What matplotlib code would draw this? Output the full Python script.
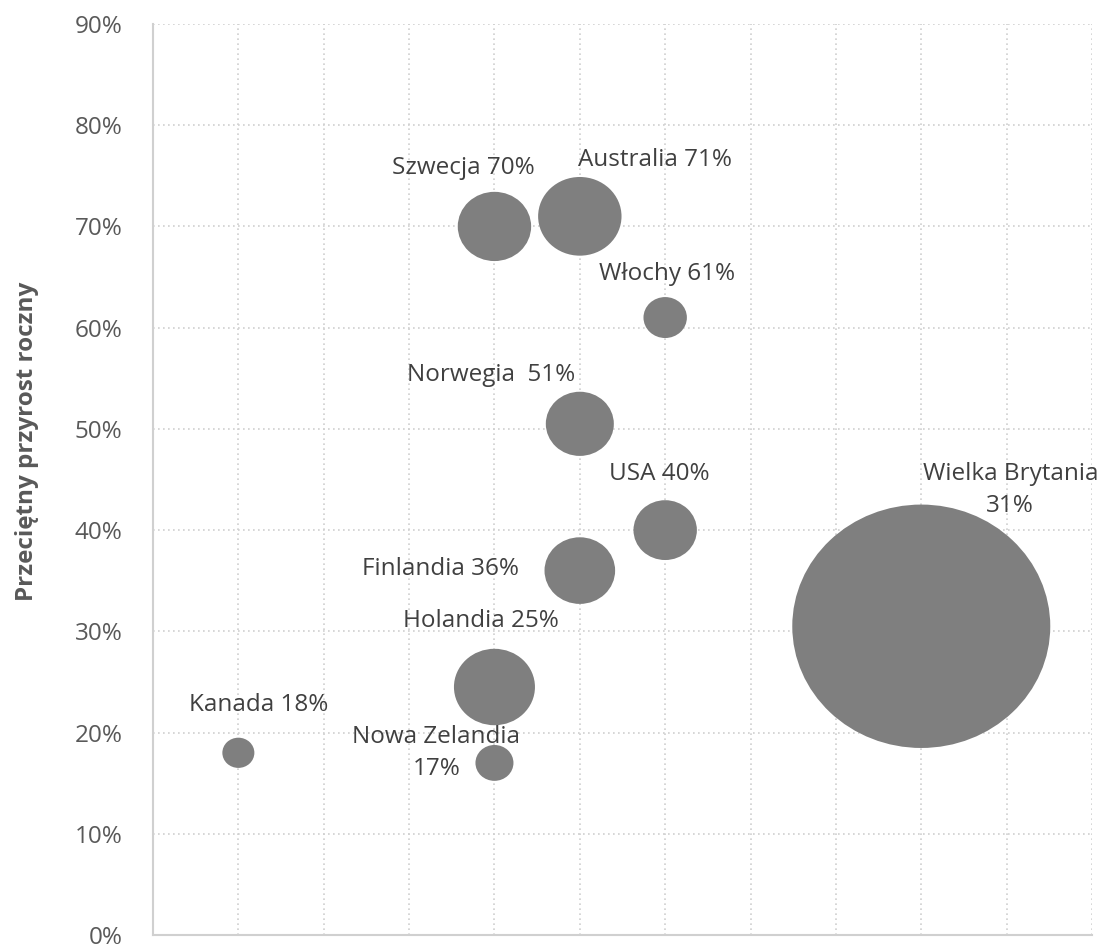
import matplotlib
matplotlib.use("Agg")
import matplotlib.pyplot as plt
from matplotlib.path import Path
from matplotlib.transforms import Affine2D
from matplotlib.ticker import PercentFormatter, MultipleLocator

plt.rcParams['font.family'] = ['Open Sans', 'DejaVu Sans']

# country data
kraje = ["Kanada", "Nowa Zelandia", "Holandia", "Szwecja", "Australia",
         "Norwegia", "Finlandia", "Włochy", "USA", "Wielka Brytania"]
poz_x = [1, 4, 4, 4, 5, 5, 5, 6, 6, 9]
przyrost = [0.18, 0.17, 0.245, 0.70, 0.71, 0.505, 0.36, 0.61, 0.40, 0.305]
wielkosc = [1.54, 2.17, 9.86, 8.09, 10.45, 6.95, 7.49, 2.83, 6.04, 100.0]

# label layout: separator between name and value, offset (px) from bubble centre
sep = [" ", "\n", " ", " ", " ", "  ", " ", " ", " ", "\n"]
off_px = [(20, 48), (-58, 10), (-14, 66), (-31, 58), (75, 56),
          (-89, 49), (-139, 2), (2, 44), (-6, 56), (89, 136)]

fig = plt.figure(figsize=(11.06, 9.44), dpi=100)
ax = fig.add_axes([153/1106, 1 - 935/944, (1092 - 153)/1106, (935 - 24)/944])

# slightly wide ellipse marker
ell = Path.unit_circle().transformed(Affine2D().scale(1.06, 1.0))
s_max = (258 * 0.72) ** 2
sizes = [w / max(wielkosc) * s_max for w in wielkosc]
ax.scatter(poz_x, przyrost, s=sizes, marker=ell, color='#7f7f7f',
           edgecolors='none', zorder=3)

for i, k in enumerate(kraje):
    pct = int(przyrost[i] * 100 + 0.5 + 1e-9)
    dx, dy = off_px[i]
    ax.annotate(f"{k}{sep[i]}{pct}%", (poz_x[i], przyrost[i]),
                xytext=(dx * 0.72, dy * 0.72), textcoords='offset points',
                ha='center', va='center', multialignment='center',
                fontsize=17.5, color='#404040', zorder=4, linespacing=1.45)

ax.set_xlim(0, 11)
ax.set_ylim(0, 0.9)
ax.xaxis.set_major_locator(MultipleLocator(1))
ax.yaxis.set_major_locator(MultipleLocator(0.1))
ax.yaxis.set_major_formatter(PercentFormatter(1.0, decimals=0))
ax.set_xticklabels([])
ax.tick_params(axis='both', length=0)
ax.tick_params(axis='y', labelsize=17.5, labelcolor='#595959', pad=22)
ax.grid(True, color='#d0d0d0', linestyle=(0, (1, 2)), linewidth=1.2, zorder=0)
ax.set_axisbelow(True)
for sp in ['top', 'right']:
    ax.spines[sp].set_visible(False)
for sp in ['left', 'bottom']:
    ax.spines[sp].set_color('#d0d0d0')
    ax.spines[sp].set_linewidth(1.5)

fig.text(27/1106, 1 - 441/944, "Przeciętny przyrost roczny", rotation=90,
         ha='center', va='center', fontsize=17.5, fontweight='bold',
         color='#595959')

fig.savefig("out.png", dpi=100)
